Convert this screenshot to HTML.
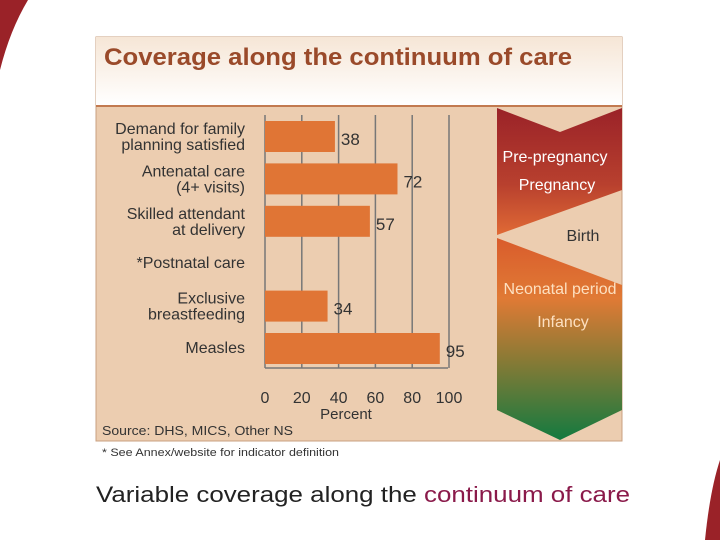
<!DOCTYPE html>
<html><head><meta charset="utf-8"><style>
body{margin:0;width:720px;height:540px;background:#fff;overflow:hidden;font-family:"Liberation Sans",sans-serif;position:relative}
</style></head><body>
<svg width="720" height="540" style="position:absolute;left:0;top:0">
<defs>
<linearGradient id="tg" x1="0" y1="0" x2="0" y2="1"><stop offset="0" stop-color="#f6e6d6"/><stop offset="1" stop-color="#ffffff"/></linearGradient>
<linearGradient id="rg" x1="0" y1="0" x2="0" y2="1"><stop offset="0" stop-color="#9a2228"/><stop offset="0.6" stop-color="#b8402e"/><stop offset="1" stop-color="#e06a35"/></linearGradient>
<linearGradient id="gg" x1="0" y1="0" x2="0" y2="1"><stop offset="0" stop-color="#d95c2c"/><stop offset="0.3" stop-color="#e07a35"/><stop offset="0.6" stop-color="#8a7a35"/><stop offset="1" stop-color="#137a40"/></linearGradient>
</defs>
<path d="M0,0 L28,0 Q10,30 0,70 Z" fill="#9a2228"/>
<path d="M720,460 L720,540 L705,540 Q710,490 720,460 Z" fill="#9a2228"/>
<rect x="96" y="37" width="526" height="404" fill="#eccdb0" stroke="#c9a080"/>
<rect x="96" y="37" width="526" height="68" fill="url(#tg)"/>
<line x1="96" y1="106" x2="622" y2="106" stroke="#c27a50" stroke-width="2"/>
<text x="104" y="65" font-size="24" font-weight="bold" fill="#9a4a2a" textLength="468" lengthAdjust="spacingAndGlyphs">Coverage along the continuum of care</text>
<g id="plot"></g>
<path d="M497,108 L560,132 L622,108 L622,190 L497,235 Z" fill="url(#rg)"/>
<path d="M497,238 L622,285 L622,410 L560,440 L497,410 Z" fill="url(#gg)"/>
<g font-family="Liberation Sans,sans-serif" font-size="16" text-anchor="middle">
<text x="555" y="162" fill="#fff">Pre-pregnancy</text>
<text x="557" y="190" fill="#fff">Pregnancy</text>
<text x="583" y="241" fill="#333">Birth</text>
<text x="560" y="294" fill="#fde0c0">Neonatal period</text>
<text x="563" y="327" fill="#fde0c0">Infancy</text>
</g>
<text x="102" y="435" font-size="13" fill="#333" textLength="191" lengthAdjust="spacingAndGlyphs">Source: DHS, MICS, Other NS</text>
<text x="102" y="456" font-size="11" fill="#333" textLength="237" lengthAdjust="spacingAndGlyphs">* See Annex/website for indicator definition</text>
<text x="96" y="502" font-size="22" fill="#222" textLength="534" lengthAdjust="spacingAndGlyphs">Variable coverage along the <tspan fill="#8a1a4a">continuum of care</tspan></text>
</svg>
<script>
const categories=[["Demand for family","planning satisfied"],["Antenatal care","(4+ visits)"],["Skilled attendant","at delivery"],["*Postnatal care"],["Exclusive","breastfeeding"],["Measles"]];
const values=[38,72,57,null,34,95];
const ticks=[0,20,40,60,80,100];
const ns="http://www.w3.org/2000/svg";
const g=document.getElementById('plot');
const x=v=>265+v*1.84;
const yc=i=>136+i*42.4;
function mk(t,a){const e=document.createElementNS(ns,t);for(const k in a)e.setAttribute(k,a[k]);g.appendChild(e);return e;}
ticks.forEach(t=>{
 const l=mk('line',{x1:x(t),x2:x(t),y1:115,y2:368,stroke:'#777','stroke-width':1.5});
 
 
 const tx=mk('text',{x:x(t),y:403,'font-size':16,'text-anchor':'middle',fill:'#333'});tx.textContent=t;
 
 
});
mk('line',{x1:265,x2:448,y1:368,y2:368,stroke:'#777','stroke-width':1.5});
const xt=mk('text',{x:346,y:419,'font-size':15,'text-anchor':'middle',fill:'#333'});xt.textContent='Percent';


categories.forEach((c,i)=>{
 const cy=yc(i);
 c.forEach((s,j)=>{const t=mk('text',{x:245,y:cy+(c.length==1?5:-2+j*16),'font-size':16,'text-anchor':'end',fill:'#333'});t.textContent=s;
 
 });
 const v=values[i]; if(v==null)return;
 const b=mk('rect',{x:265,y:cy-15,width:x(v)-265,height:31,fill:'#e07535'});
 
 
 const vt=mk('text',{x:x(v)+6,y:cy+9,'font-size':17,fill:'#333'});vt.textContent=v;
 
 
});
</script>
</body></html>
